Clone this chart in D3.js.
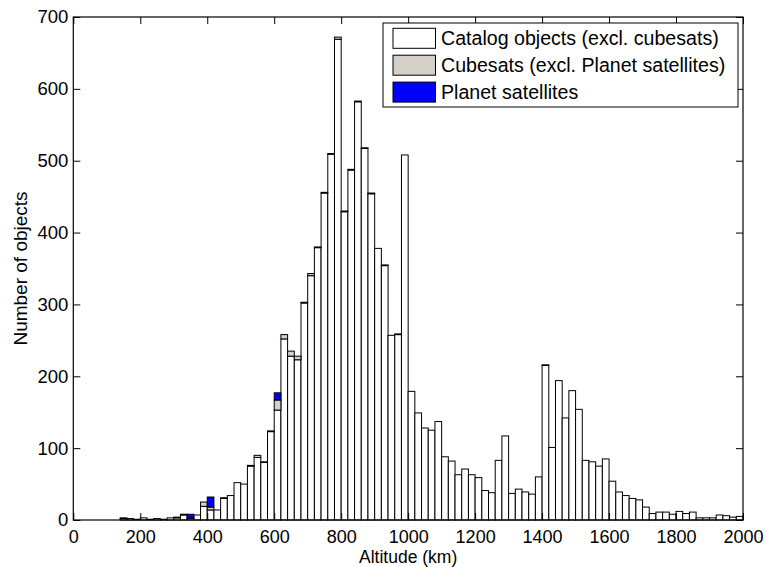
<!DOCTYPE html>
<html>
<head>
<meta charset="utf-8">
<script src="https://cdn.jsdelivr.net/npm/d3@7"></script>
<style>
  body { margin: 0; background: #fff; }
  svg { font-family: "Liberation Sans", Arial, Helvetica, sans-serif; }
</style>
</head>
<body>
<svg id="chart" width="766" height="567"></svg>
<script>
'use strict';

// histogram bins: 20 km wide, 0 .. 2000 km
const BIN_WIDTH = 20;

const catalogCounts = [
  0, 0, 0, 0, 0, 0, 0, 2, 2, 1,
  3, 1, 2, 1, 3, 3, 7, 2, 7, 19,
  14, 14, 30, 34, 52, 50, 75, 87, 80, 123,
  153, 252, 228, 223, 302, 340, 379, 455, 509, 669,
  429, 487, 582, 517, 454, 378, 354, 257, 258, 508,
  179, 149, 128, 125, 137, 88, 82, 63, 71, 63,
  59, 41, 38, 83, 117, 37, 43, 39, 36, 60,
  215, 101, 194, 142, 180, 154, 83, 81, 75, 85,
  54, 39, 34, 30, 28, 18, 9, 11, 11, 8,
  12, 9, 11, 3, 3, 3, 7, 6, 4, 5
];

const cubesatCounts = [
  0, 0, 0, 0, 0, 0, 0, 1, 0, 0,
  0, 0, 0, 0, 0, 1, 0, 1, 0, 6,
  4, 0, 1, 0, 0, 0, 1, 3, 1, 1,
  14, 6, 7, 5, 1, 3, 1, 1, 1, 3,
  1, 1, 1, 1, 1, 0, 1, 0, 1, 0,
  0, 0, 0, 0, 0, 0, 0, 0, 0, 0,
  0, 0, 0, 0, 0, 0, 0, 0, 0, 0,
  1, 0, 0, 0, 0, 0, 0, 0, 0, 0,
  0, 0, 0, 0, 0, 0, 0, 0, 0, 0,
  0, 0, 0, 0, 0, 0, 0, 0, 0, 0
];

const planetCounts = [
  0, 0, 0, 0, 0, 0, 0, 0, 0, 0,
  0, 0, 0, 0, 0, 0, 1, 5, 0, 0,
  14, 0, 0, 0, 0, 0, 0, 0, 0, 0,
  10, 0, 0, 0, 0, 0, 0, 0, 0, 0,
  0, 0, 0, 0, 0, 0, 0, 0, 0, 0,
  0, 0, 0, 0, 0, 0, 0, 0, 0, 0,
  0, 0, 0, 0, 0, 0, 0, 0, 0, 0,
  0, 0, 0, 0, 0, 0, 0, 0, 0, 0,
  0, 0, 0, 0, 0, 0, 0, 0, 0, 0,
  0, 0, 0, 0, 0, 0, 0, 0, 0, 0
];

const seriesLabels = [
  'Catalog objects (excl. cubesats)',
  'Cubesats (excl. Planet satellites)',
  'Planet satellites'
];

const xTicks = [0, 200, 400, 600, 800, 1000, 1200, 1400, 1600, 1800, 2000];
const yTicks = [0, 100, 200, 300, 400, 500, 600, 700];

const KEYS = ['catalog', 'cubesat', 'planet'];
const COLORS = ['#ffffff', '#d4d0c8', '#0000ff'];

const data = catalogCounts.map((c, i) => ({
  lo: i * BIN_WIDTH,
  catalog: c,
  cubesat: cubesatCounts[i],
  planet: planetCounts[i],
}));

const margin = { top: 17, right: 23, bottom: 47, left: 73.3 };
const width = 766, height = 567;

const svg = d3.select('#chart');

const x = d3.scaleLinear()
  .domain([0, 2000])
  .range([margin.left, width - margin.right]);

const y = d3.scaleLinear()
  .domain([0, 700])
  .range([height - margin.bottom, margin.top]);

// bars
const stacked = d3.stack().keys(KEYS)(data);

svg.append('g')
  .selectAll('g')
  .data(stacked)
  .enter()
  .append('g')
  .attr('fill', (d, i) => COLORS[i])
  .selectAll('rect')
  .data((d) => d.filter((e) => e[1] - e[0] > 0))
  .enter()
  .append('rect')
  .attr('x', (d) => x(d.data.lo))
  .attr('width', (d) => x(d.data.lo + BIN_WIDTH) - x(d.data.lo))
  .attr('y', (d) => y(d[1]))
  .attr('height', (d) => y(d[0]) - y(d[1]))
  .attr('stroke', '#000')
  .attr('stroke-width', 1);

// axes (MATLAB style: ticks inside, box on)
const TICK = 7;
const styleAxis = (g) =>
  g
    .call((g) => g.select('.domain').remove())
    .call((g) => g.selectAll('.tick line').attr('stroke', '#000'))
    .call((g) => g.selectAll('.tick text').attr('fill', '#000'));

svg.append('g')
  .attr('transform', `translate(0,${y(0)})`)
  .call(d3.axisBottom(x).tickValues(xTicks).tickSize(-TICK).tickPadding(10).tickFormat(d3.format('d')))
  .call(styleAxis)
  .call((g) => g.selectAll('.tick text').attr('font-size', 18));

svg.append('g')
  .attr('transform', `translate(0,${y(700)})`)
  .call(d3.axisTop(x).tickValues(xTicks).tickSize(-TICK).tickFormat(''))
  .call(styleAxis);

svg.append('g')
  .attr('transform', `translate(${x(0)},0)`)
  .call(d3.axisLeft(y).tickValues(yTicks).tickSize(-TICK).tickPadding(5).tickFormat(d3.format('d')))
  .call(styleAxis)
  .call((g) => g.selectAll('.tick text').attr('font-size', 18.5));

svg.append('g')
  .attr('transform', `translate(${x(2000)},0)`)
  .call(d3.axisRight(y).tickValues(yTicks).tickSize(-TICK).tickFormat(''))
  .call(styleAxis);

// box
svg.append('rect')
  .attr('x', x(0))
  .attr('y', y(700))
  .attr('width', x(2000) - x(0))
  .attr('height', y(0) - y(700))
  .attr('fill', 'none')
  .attr('stroke', '#000')
  .attr('stroke-width', 1.2);

// axis labels
svg.append('text')
  .attr('x', (x(0) + x(2000)) / 2)
  .attr('y', 563)
  .attr('text-anchor', 'middle')
  .attr('font-size', 17.5)
  .text('Altitude (km)');

svg.append('text')
  .attr('transform', `translate(27,${(y(0) + y(700)) / 2}) rotate(-90)`)
  .attr('text-anchor', 'middle')
  .attr('font-size', 19)
  .text('Number of objects');

// legend
const legend = svg.append('g');
legend.append('rect')
  .attr('x', 383)
  .attr('y', 23)
  .attr('width', 355)
  .attr('height', 84)
  .attr('fill', '#fff')
  .attr('stroke', '#000')
  .attr('stroke-width', 1);

seriesLabels.forEach((label, i) => {
  const rowY = 28.3 + i * 26.9;
  legend.append('rect')
    .attr('x', 393)
    .attr('y', rowY)
    .attr('width', 42.5)
    .attr('height', 20)
    .attr('fill', COLORS[i])
    .attr('stroke', '#000')
    .attr('stroke-width', 1);
  legend.append('text')
    .attr('x', 441)
    .attr('y', rowY + 17)
    .attr('font-size', 19.6)
    .text(label);
});
</script>
</body>
</html>
